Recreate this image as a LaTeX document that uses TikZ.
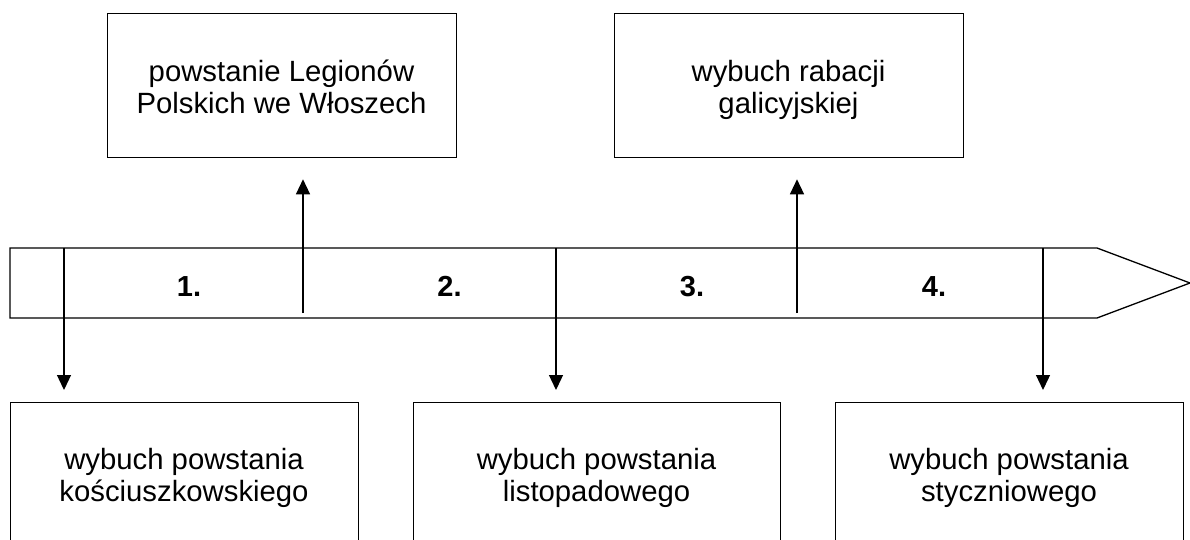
\documentclass[tikz,border=0pt]{standalone}
\usepackage{fontspec}
\setmainfont{Liberation Sans}
\usetikzlibrary{arrows.meta}
\tikzset{
  line/.style={line width=1.3pt, draw=black},
  box/.style={line, rectangle, inner sep=0pt, anchor=north west},
  lbl/.style={inner sep=0pt, align=center, font=\fontsize{29.3}{32}\selectfont},
  num/.style={inner sep=0pt, anchor=base, font=\fontsize{29}{32}\selectfont\bfseries},
  arr/.style={line, -{Triangle[width=14pt,length=15pt]}},
  tick/.style={line}
}
\begin{document}
\begin{tikzpicture}[x=1pt,y=-1pt]
\useasboundingbox (0,0) rectangle (1190,540);
\clip (0,0) rectangle (1190,540);
% timeline bar
\draw[line, line join=miter] (10,248) -- (1097,248) -- (1190,283) -- (1097,318) -- (10,318) -- cycle;
% boxes
\node[box, minimum width=349pt, minimum height=144pt] (t1) at (107,13) {};
\node[box, minimum width=349pt, minimum height=144pt] (t2) at (614,13) {};
\node[box, minimum width=348pt, minimum height=150pt] (b1) at (10,402) {};
\node[box, minimum width=367pt, minimum height=150pt] (b2) at (413,402) {};
\node[box, minimum width=348pt, minimum height=150pt] (b3) at (835,402) {};
% box texts
\node[lbl] (t1txt) at (281.5,91) {\strut powstanie Legionów\\\strut Polskich we Włoszech};
\node[lbl] (t2txt) at (788.5,91) {\strut wybuch rabacji\\\strut galicyjskiej};
\node[lbl] (b1txt) at (184,478.6) {\strut wybuch powstania\\\strut kościuszkowskiego};
\node[lbl] (b2txt) at (596.5,478.6) {\strut wybuch powstania\\\strut listopadowego};
\node[lbl] (b3txt) at (1009,478.6) {\strut wybuch powstania\\\strut styczniowego};
% numbers
\node[num] (n1) at (189,296) {1.};
\node[num] (n2) at (449.5,296) {2.};
\node[num] (n3) at (692,296) {3.};
\node[num] (n4) at (934,296) {4.};
% connectors
\coordinate (d1) at (64,248);
\coordinate (d2) at (556,248);
\coordinate (d3) at (1043,248);
\coordinate (u1) at (303,313);
\coordinate (u2) at (797,313);
\draw[arr, shorten >=12pt] (d1) -- (d1 |- b1.north);
\draw[arr, shorten >=12pt] (d2) -- (d2 |- b2.north);
\draw[arr, shorten >=12pt] (d3) -- (d3 |- b3.north);
\draw[arr, shorten >=21pt] (u1) -- (u1 |- t1.south);
\draw[arr, shorten >=21pt] (u2) -- (u2 |- t2.south);
\end{tikzpicture}
\end{document}
